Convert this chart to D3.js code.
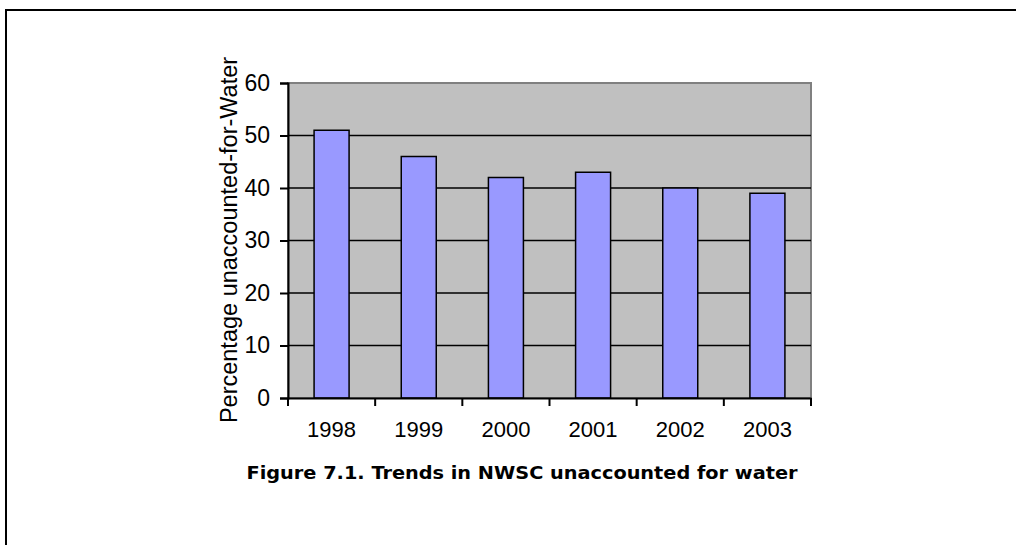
<!DOCTYPE html>
<html><head><meta charset="utf-8">
<script src="https://cdn.jsdelivr.net/npm/d3@7"></script>
<style>body{margin:0;background:#fff;overflow:hidden}svg{display:block}</style>
</head><body>
<script>
const categories = ["1998","1999","2000","2001","2002","2003"];
const values = [51, 46, 42, 43, 40, 39];
const yTicks = [0,10,20,30,40,50,60];
const yLabel = "Percentage unaccounted-for-Water";
const caption = "Figure 7.1. Trends in NWSC unaccounted for water";

const W = 1016, H = 545;
const svg = d3.select("body").append("svg").attr("width", W).attr("height", H);
svg.append("rect").attr("width", W).attr("height", H).attr("fill", "#fff");
// frame (left and top edges visible)
svg.append("path").attr("d", `M6,${H}V10H${W}`)
  .attr("fill", "none").attr("stroke", "#000").attr("stroke-width", 2);

const L = 288, R = 811, T = 83, B = 398;
const xc = d3.scaleBand().domain(categories).range([L, R]);
const y = d3.scaleLinear().domain([0, 60]).range([B, T]);

// plot area
svg.append("rect").attr("x", L).attr("y", T).attr("width", R - L).attr("height", B - T)
  .attr("fill", "#c0c0c0").attr("stroke", "#808080").attr("stroke-width", 2);
// gridlines
svg.append("g").selectAll("line").data(yTicks.filter(d => d > 0 && d < 60)).join("line")
  .attr("x1", L).attr("x2", R).attr("y1", d => y(d)).attr("y2", d => y(d))
  .attr("stroke", "#000").attr("stroke-width", 1.5);

// bars
const bw = 35;
svg.append("g").selectAll("rect").data(values).join("rect")
  .attr("x", (d, i) => xc(categories[i]) + xc.bandwidth() / 2 - bw / 2)
  .attr("width", bw)
  .attr("y", d => y(d)).attr("height", d => B - y(d))
  .attr("fill", "#9999ff").attr("stroke", "#000").attr("stroke-width", 1.5);

const font = "Liberation Sans, Arial, sans-serif";
// y axis
const ya = svg.append("g").attr("transform", `translate(${L},0)`)
  .call(d3.axisLeft(y).tickValues(yTicks).tickSize(8).tickPadding(10));
ya.select(".domain").attr("stroke", "#000").attr("stroke-width", 2);
ya.selectAll(".tick line").attr("stroke", "#000").attr("stroke-width", 2);
ya.selectAll("text").attr("font-family", font).attr("font-size", 23).attr("fill", "#000");

// x axis
const xa = svg.append("g").attr("transform", `translate(0,${B})`)
  .call(d3.axisBottom(xc).tickSize(0).tickPadding(23));
xa.select(".domain").attr("stroke", "#000").attr("stroke-width", 2);
xa.selectAll("text").attr("font-family", font).attr("font-size", 22).attr("fill", "#000");
// category boundary ticks
svg.append("g").selectAll("line").data(d3.range(categories.length + 1)).join("line")
  .attr("x1", i => L + i * xc.step()).attr("x2", i => L + i * xc.step())
  .attr("y1", B).attr("y2", B + 8).attr("stroke", "#000").attr("stroke-width", 2);

// y label
svg.append("text").attr("transform", `translate(237,240) rotate(-90)`)
  .attr("text-anchor", "middle").attr("font-family", font)
  .attr("font-size", 23.5).attr("fill", "#000").text(yLabel);

// caption
svg.append("text").attr("x", 522).attr("y", 479).attr("text-anchor", "middle")
  .attr("font-family", "DejaVu Sans, sans-serif").attr("font-weight", "bold")
  .attr("font-size", 18).attr("textLength", 551).attr("lengthAdjust", "spacingAndGlyphs")
  .attr("fill", "#000").text(caption);
</script>
</body></html>
